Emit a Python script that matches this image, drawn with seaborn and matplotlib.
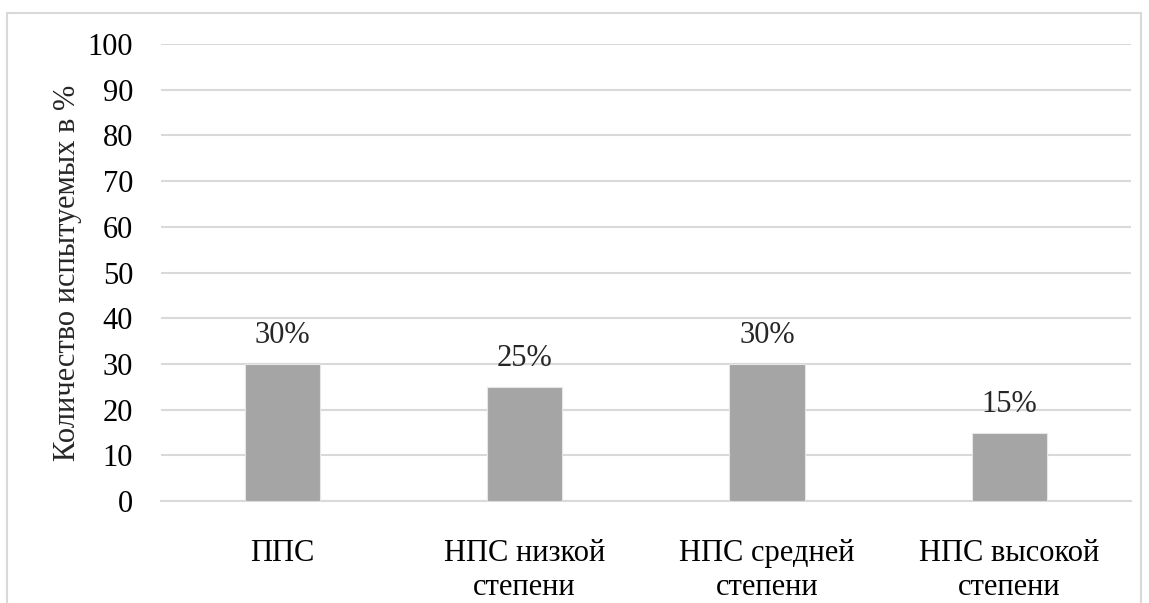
import pandas as pd
import seaborn as sns
import matplotlib.pyplot as plt
from matplotlib.patches import Rectangle

# Data
categories = ['ППС', 'НПС низкой\nстепени', 'НПС средней\nстепени', 'НПС высокой\nстепени']
values = [30, 25, 30, 15]
labels = ['30%', '25%', '30%', '15%']

BAR_COLOR = '#A5A5A5'
GRID_COLOR = '#D9D9D9'
FONT_SIZE = 22

sns.set_theme(style='white')
plt.rcParams['font.family'] = ['Liberation Serif', 'DejaVu Serif']

df = pd.DataFrame({'category': categories, 'value': values})

fig = plt.figure(figsize=(11.49, 6.03), dpi=100)
ax = fig.add_axes([0.140, 0.169, 0.844, 0.758])

sns.barplot(data=df, x='category', y='value', color=BAR_COLOR, width=0.31,
            saturation=1, ax=ax, zorder=3, edgecolor='#E6E6E6', linewidth=0.8)

ax.set_ylim(0, 100)
ax.set_yticks(range(0, 101, 10))
ax.yaxis.grid(True, color=GRID_COLOR, linewidth=1.5, zorder=0)
ax.set_axisbelow(True)
for side in ['top', 'right', 'left']:
    ax.spines[side].set_visible(False)
ax.spines['bottom'].set_color(GRID_COLOR)
ax.spines['bottom'].set_linewidth(1.5)

ax.tick_params(axis='y', labelsize=FONT_SIZE, length=0, pad=20, colors='black')
ax.tick_params(axis='x', labelsize=FONT_SIZE, length=0, pad=27, colors='black')
for t in ax.get_xticklabels():
    t.set_linespacing(1.25)
ax.set_xlabel('')
ax.set_ylabel('Количество испытуемых в %', fontsize=FONT_SIZE, labelpad=4)

for i, (v, lab) in enumerate(zip(values, labels)):
    ax.annotate(lab, (i, v), xytext=(0, 10), textcoords='offset points',
                ha='center', va='bottom', fontsize=FONT_SIZE)

# light outer frame like the chart area border
fig.patches.append(Rectangle((7 / 1149, -0.05), 1134 / 1149, 1.05 - 13 / 603,
                             transform=fig.transFigure, fill=False,
                             edgecolor=GRID_COLOR, linewidth=1.5))

fig.savefig('out.png', dpi=100, facecolor='white')
plt.close(fig)
